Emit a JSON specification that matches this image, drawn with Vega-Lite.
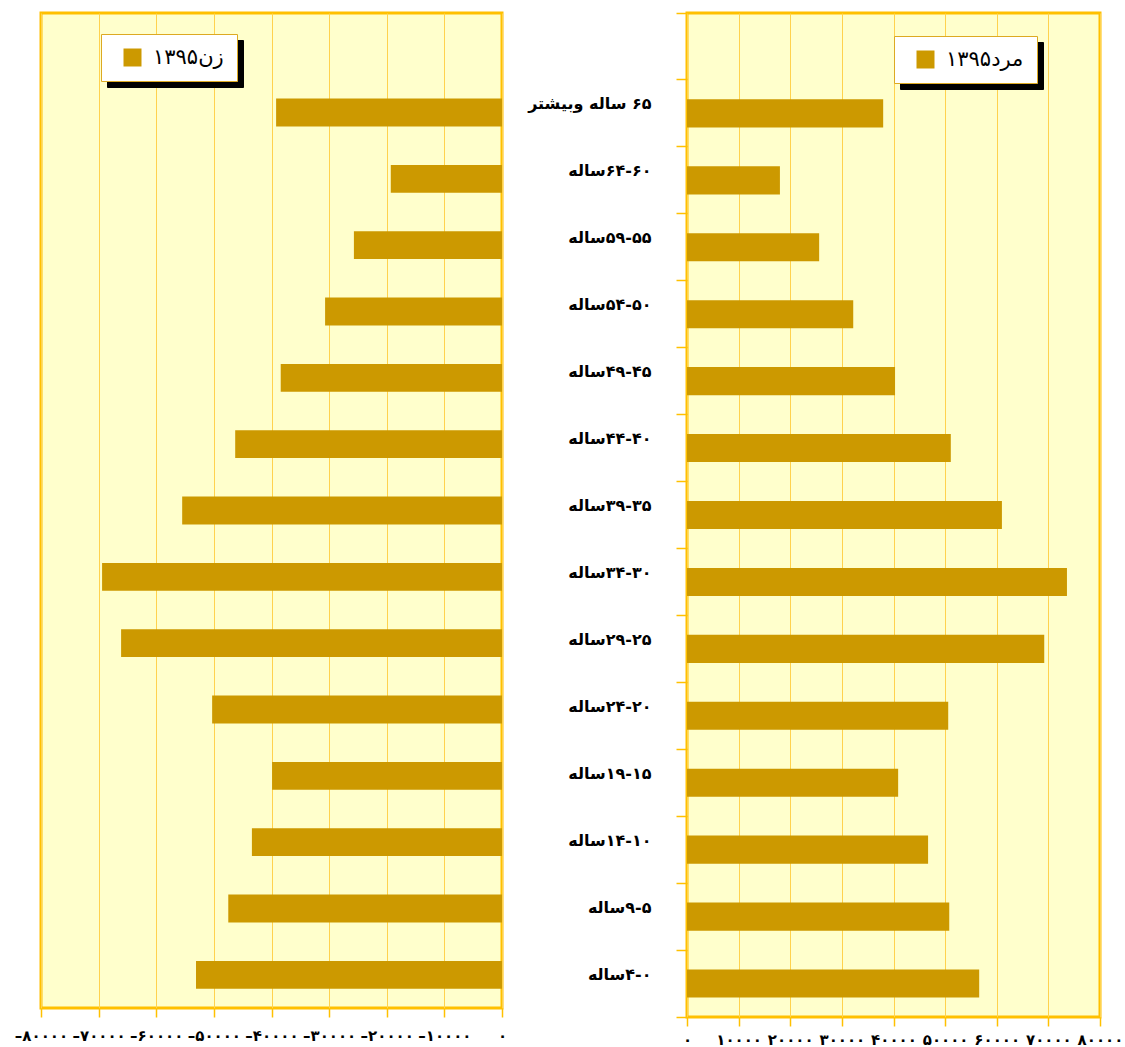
{
  "$schema": "https://vega.github.io/schema/vega-lite/v6.json",
  "background": "white",
  "padding": {"left": 12, "top": 3, "right": 0, "bottom": 0},
  "datasets": {
    "pop": [
      {"age": "۶۵ ساله وبیشتر", "series": "زن۱۳۹۵", "value": -39200},
      {"age": "۶۰-۶۴ساله", "series": "زن۱۳۹۵", "value": -19300},
      {"age": "۵۵-۵۹ساله", "series": "زن۱۳۹۵", "value": -25700},
      {"age": "۵۰-۵۴ساله", "series": "زن۱۳۹۵", "value": -30700},
      {"age": "۴۵-۴۹ساله", "series": "زن۱۳۹۵", "value": -38400},
      {"age": "۴۰-۴۴ساله", "series": "زن۱۳۹۵", "value": -46300},
      {"age": "۳۵-۳۹ساله", "series": "زن۱۳۹۵", "value": -55500},
      {"age": "۳۰-۳۴ساله", "series": "زن۱۳۹۵", "value": -69400},
      {"age": "۲۵-۲۹ساله", "series": "زن۱۳۹۵", "value": -66100},
      {"age": "۲۰-۲۴ساله", "series": "زن۱۳۹۵", "value": -50300},
      {"age": "۱۵-۱۹ساله", "series": "زن۱۳۹۵", "value": -39900},
      {"age": "۱۰-۱۴ساله", "series": "زن۱۳۹۵", "value": -43400},
      {"age": "۵-۹ساله", "series": "زن۱۳۹۵", "value": -47500},
      {"age": "۰-۴ساله", "series": "زن۱۳۹۵", "value": -53100},
      {"age": "۶۵ ساله وبیشتر", "series": "مرد۱۳۹۵", "value": 38000},
      {"age": "۶۰-۶۴ساله", "series": "مرد۱۳۹۵", "value": 18000},
      {"age": "۵۵-۵۹ساله", "series": "مرد۱۳۹۵", "value": 25600},
      {"age": "۵۰-۵۴ساله", "series": "مرد۱۳۹۵", "value": 32200},
      {"age": "۴۵-۴۹ساله", "series": "مرد۱۳۹۵", "value": 40300},
      {"age": "۴۰-۴۴ساله", "series": "مرد۱۳۹۵", "value": 51100},
      {"age": "۳۵-۳۹ساله", "series": "مرد۱۳۹۵", "value": 61000},
      {"age": "۳۰-۳۴ساله", "series": "مرد۱۳۹۵", "value": 73600},
      {"age": "۲۵-۲۹ساله", "series": "مرد۱۳۹۵", "value": 69200},
      {"age": "۲۰-۲۴ساله", "series": "مرد۱۳۹۵", "value": 50600},
      {"age": "۱۵-۱۹ساله", "series": "مرد۱۳۹۵", "value": 40900},
      {"age": "۱۰-۱۴ساله", "series": "مرد۱۳۹۵", "value": 46700},
      {"age": "۵-۹ساله", "series": "مرد۱۳۹۵", "value": 50800},
      {"age": "۰-۴ساله", "series": "مرد۱۳۹۵", "value": 56600}
    ]
  },
  "data": {"name": "pop"},
  "spacing": 17,
  "resolve": {
    "scale": {"color": "independent", "opacity": "independent", "x": "independent", "y": "independent"},
    "legend": {"color": "independent", "opacity": "independent"}
  },
  "hconcat": [
    {
      "width": 461,
      "height": 995,
      "transform": [{"filter": "datum.series === 'زن۱۳۹۵'"}],
      "mark": {"type": "bar", "height": {"band": 0.42}},
      "encoding": {
        "y": {
          "field": "age", "type": "nominal",
          "scale": {"domain": [" ", "۶۵ ساله وبیشتر", "۶۰-۶۴ساله", "۵۵-۵۹ساله", "۵۰-۵۴ساله", "۴۵-۴۹ساله", "۴۰-۴۴ساله", "۳۵-۳۹ساله", "۳۰-۳۴ساله", "۲۵-۲۹ساله", "۲۰-۲۴ساله", "۱۵-۱۹ساله", "۱۰-۱۴ساله", "۵-۹ساله", "۰-۴ساله"], "paddingInner": 0, "paddingOuter": 0},
          "axis": null
        },
        "x": {
          "field": "value", "type": "quantitative",
          "scale": {"domain": [-80000, 0], "nice": false},
          "axis": {
            "tickCount": 8, "labelPadding": 11,
            "labelExpr": "datum.value == 0 ? '۰' : '–' + substring('۰۱۲۳۴۵۶۷۸۹', round(abs(datum.value)/10000), round(abs(datum.value)/10000)+1) + '۰۰۰۰'"
          }
        },
        "color": {
          "field": "series", "type": "nominal",
          "scale": {"range": ["#CC9900"]},
          "legend": {
            "orient": "none", "legendX": 60, "legendY": 21, "zindex": 2,
            "title": null, "fillColor": "white", "strokeColor": "#DDAA22",
            "padding": 13, "symbolType": "square", "symbolSize": 324, "symbolStrokeWidth": 0,
            "symbolOffset": 8, "labelOffset": 10, "labelFontSize": 21, "labelFont": "DejaVu Sans", "labelColor": "black"
          }
        },
        "opacity": {
          "field": "series", "type": "nominal",
          "scale": {"type": "ordinal", "domain": ["زن۱۳۹۵"], "range": [1]},
          "legend": {
            "orient": "none", "legendX": 66, "legendY": 27, "zindex": 1,
            "title": null, "fillColor": "black", "strokeColor": "black",
            "padding": 13, "symbolType": "square", "symbolSize": 324, "symbolStrokeWidth": 0,
            "symbolFillColor": "black", "symbolOffset": 8, "labelOffset": 10, "labelFontSize": 21, "labelFont": "DejaVu Sans", "labelColor": "black"
          }
        }
      }
    },
    {
      "width": 413,
      "height": 1004,
      "transform": [{"filter": "datum.series === 'مرد۱۳۹۵'"}],
      "mark": {"type": "bar", "height": {"band": 0.42}},
      "encoding": {
        "y": {
          "field": "age", "type": "nominal",
          "scale": {"domain": [" ", "۶۵ ساله وبیشتر", "۶۰-۶۴ساله", "۵۵-۵۹ساله", "۵۰-۵۴ساله", "۴۵-۴۹ساله", "۴۰-۴۴ساله", "۳۵-۳۹ساله", "۳۰-۳۴ساله", "۲۵-۲۹ساله", "۲۰-۲۴ساله", "۱۵-۱۹ساله", "۱۰-۱۴ساله", "۵-۹ساله", "۰-۴ساله"], "paddingInner": 0, "paddingOuter": 0},
          "axis": {
            "orient": "left", "title": null, "domain": false, "grid": false,
            "bandPosition": 1, "tickExtra": true,
            "tickSize": 11, "tickColor": "#FFC000", "tickWidth": 1.5,
            "labelPadding": 25, "labelOffset": -9,
            "labelExpr": "'\u202B' + replace(datum.label, '-', '\u200F-\u200F') + '\u202C'",
            "labelFont": "DejaVu Sans", "labelFontSize": 16, "labelFontWeight": "bold", "labelColor": "black", "labelLimit": 0
          }
        },
        "x": {
          "field": "value", "type": "quantitative",
          "scale": {"domain": [0, 80000], "nice": false},
          "axis": {
            "tickCount": 8, "labelPadding": 6,
            "labelExpr": "datum.value == 0 ? '۰' : substring('۰۱۲۳۴۵۶۷۸۹', round(datum.value/10000), round(datum.value/10000)+1) + '۰۰۰۰'"
          }
        },
        "color": {
          "field": "series", "type": "nominal",
          "scale": {"range": ["#CC9900"]},
          "legend": {
            "orient": "none", "legendX": 207, "legendY": 23, "zindex": 2,
            "title": null, "fillColor": "white", "strokeColor": "#DDAA22",
            "padding": 13, "symbolType": "square", "symbolSize": 324, "symbolStrokeWidth": 0,
            "symbolOffset": 8, "labelOffset": 10, "labelFontSize": 21, "labelFont": "DejaVu Sans", "labelColor": "black"
          }
        },
        "opacity": {
          "field": "series", "type": "nominal",
          "scale": {"type": "ordinal", "domain": ["مرد۱۳۹۵"], "range": [1]},
          "legend": {
            "orient": "none", "legendX": 213, "legendY": 29, "zindex": 1,
            "title": null, "fillColor": "black", "strokeColor": "black",
            "padding": 13, "symbolType": "square", "symbolSize": 324, "symbolStrokeWidth": 0,
            "symbolFillColor": "black", "symbolOffset": 8, "labelOffset": 10, "labelFontSize": 21, "labelFont": "DejaVu Sans", "labelColor": "black"
          }
        }
      }
    }
  ],
  "config": {
    "view": {"stroke": "#FFC000", "strokeWidth": 3, "fill": "#FFFFCC"},
    "bar": {"color": "#CC9900"},
    "axisX": {
      "title": null, "domain": false, "grid": true, "gridColor": "#FFD24D", "gridWidth": 1,
      "tickColor": "#FFC000", "tickWidth": 1.5, "tickSize": 9,
      "labelFlush": false, "labelOverlap": false, "labelBound": false,
      "labelFont": "DejaVu Sans", "labelFontSize": 15, "labelFontWeight": "bold", "labelColor": "black"
    }
  }
}
